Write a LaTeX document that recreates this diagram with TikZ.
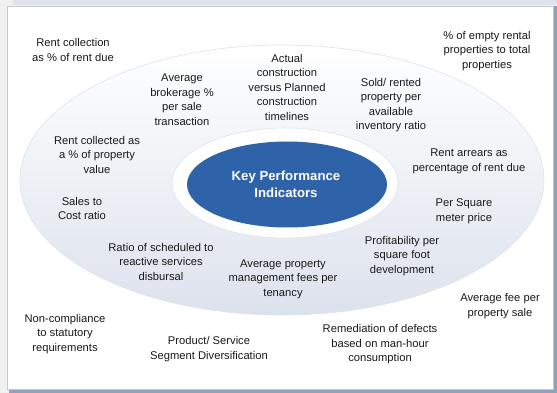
\documentclass[tikz,border=0pt]{standalone}
\usepackage{fontspec}
\setmainfont{Liberation Sans}
\usetikzlibrary{shapes.geometric}
\definecolor{pagegray}{HTML}{F0F0F0}
\definecolor{topband}{HTML}{DCE3ED}
\definecolor{edgeblue}{HTML}{8EA3BB}
\definecolor{panelborder}{HTML}{C8C8C8}
\definecolor{ringbot}{HTML}{DCE2ED}
\definecolor{ringline}{HTML}{DDE3EE}
\definecolor{kpiblue}{HTML}{2F63A9}
\definecolor{txt}{HTML}{1A1A1A}
\tikzset{
  kpi/.style={align=center, text=txt, font=\fontsize{11.2}{14.5}\selectfont, inner sep=0pt},
  core/.style={align=center, text=white, font=\fontsize{13.2}{17}\selectfont\bfseries, inner sep=0pt}
}
\begin{document}
\begin{tikzpicture}[x=1pt,y=-1pt]
\useasboundingbox (0,0) rectangle (557,393);
% frame
\fill[pagegray] (0,0) rectangle (557,393);
\fill[topband] (13,0) rectangle (557,5);
\fill[edgeblue] (554,6) rectangle (557,393);
\fill[edgeblue] (9,390) rectangle (557,393);
\filldraw[fill=white, draw=panelborder, line width=0.8pt] (7.5,6.5) rectangle (553.5,389.5);
% outer ellipse
\shade[top color=white, bottom color=ringbot, draw=ringline, line width=0.6pt] (282,180) ellipse [x radius=262, y radius=135];
% white ring
\filldraw[fill=white, draw=ringline, line width=0.6pt] (285,183) ellipse [x radius=113, y radius=55];
% core
\fill[kpiblue] (287,184.5) ellipse [x radius=100, y radius=43];
\node[core] (core) at (286,184) {Key Performance\\Indicators};
% labels
\node[kpi] (k1) at (73,50) {Rent collection\\as \% of rent due};
\node[kpi] (k2) at (182,99.5) {Average\\brokerage \%\\per sale\\transaction};
\node[kpi] (k3) at (287,87) {Actual\\construction\\versus Planned\\construction\\timelines};
\node[kpi] (k4) at (391,105) {Sold/ rented\\property per\\available\\inventory ratio};
\node[kpi] (k5) at (487,51) {\% of empty rental\\properties to total\\properties};
\node[kpi] (k6) at (97,154.5) {Rent collected as\\a \% of property\\value};
\node[kpi] (k7) at (469,161.5) {Rent arrears as\\percentage of rent due};
\node[kpi] (k8) at (82,208.5) {Sales to\\Cost ratio};
\node[kpi] (k9) at (464,211.5) {Per Square\\meter price};
\node[kpi] (k10) at (161,261.5) {Ratio of scheduled to\\reactive services\\disbursal};
\node[kpi] (k11) at (283,279) {Average property\\management fees per\\tenancy};
\node[kpi] (k12) at (402,256) {Profitability per\\square foot\\development};
\node[kpi] (k13) at (500,306) {Average fee per\\property sale};
\node[kpi] (k14) at (65,334) {Non-compliance\\to statutory\\requirements};
\node[kpi] (k15) at (209,349) {Product/ Service\\Segment Diversification};
\node[kpi] (k16) at (380,344.5) {Remediation of defects\\based on man-hour\\consumption};
\end{tikzpicture}
\end{document}
